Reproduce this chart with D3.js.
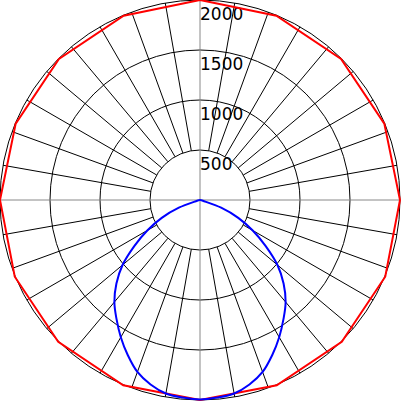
<!DOCTYPE html>
<html>
<head>
<meta charset="utf-8">
<script src="https://cdn.jsdelivr.net/npm/d3@7"></script>
<style>
  html, body { margin: 0; padding: 0; background: #fff; }
  svg { display: block; }
</style>
</head>
<body>
<script>
// ---- data ----
const radialTicks = [500, 1000, 1500, 2000];
const tickLabels = ["500", "1000", "1500", "2000"];
const spokeAngles = [10,20,30,40,50,60,70,80,100,110,120,130,140,150,160,170,190,200,210,220,230,240,250,260,280,290,300,310,320,330,340,350];
// red series: angle (deg, clockwise from top) and value
const redAngles = [0, 22.5, 45, 67.5, 90, 112.5, 135, 157.5, 180, 202.5, 225, 247.5, 270, 292.5, 315, 337.5];
const redValues = [2000, 1995, 1995, 1995, 2000, 2005, 2005, 2005, 2000, 2005, 2005, 2005, 2000, 1995, 1995, 1995];
// blue series: angle (deg, clockwise from top) and value
const blueAngles = [0,5,10,15,20,25,30,35,40,45,50,55,60,65,70,75,80,85,90,95,100,105,110,115,120,125,130,135,140,145,150,155,160,165,170,175,180,185,190,195,200,205,210,215,220,225,230,235,240,245,250,255,260,265,270,275,280,285,290,295,300,305,310,315,320,325,330,335,340,345,350,355];
const blueValues = [0,0,0,0,0,0,0,0,0,0,0,0,0,0,0,0,0,0,0,0,0,30,225,422,606,800,1011,1182,1332,1455,1584,1710,1830,1910,1965,1983,1995,1983,1965,1910,1830,1710,1584,1455,1332,1182,1011,800,606,422,225,30,0,0,0,0,0,0,0,0,0,0,0,0,0,0,0,0,0,0,0,0];

// ---- chart ----
const W = 401, H = 401, cx = 200, cy = 200;
const svg = d3.select("body").append("svg").attr("width", W).attr("height", H);
const g = svg.append("g").attr("transform", `translate(${cx},${cy})`);
const r = d3.scaleLinear().domain([0, 2000]).range([0, 200]);
const rad = d => d * Math.PI / 180;

// circles
g.selectAll("circle.grid").data(radialTicks).join("circle")
  .attr("class", "grid").attr("r", d => r(d))
  .attr("fill", "none").attr("stroke", "#000").attr("stroke-width", 1);

// spokes
g.selectAll("line.spoke").data(spokeAngles).join("line")
  .attr("class", "spoke")
  .attr("x1", d => r(500) * Math.sin(rad(d)))
  .attr("y1", d => -r(500) * Math.cos(rad(d)))
  .attr("x2", d => r(2000) * Math.sin(rad(d)))
  .attr("y2", d => -r(2000) * Math.cos(rad(d)))
  .attr("stroke", "#000").attr("stroke-width", 1);

// axes
g.append("line").attr("x1", -r(2000)).attr("x2", r(2000)).attr("y1", 0).attr("y2", 0)
  .attr("stroke", "#888").attr("stroke-width", 1);
g.append("line").attr("y1", -r(2000)).attr("y2", r(2000)).attr("x1", 0).attr("x2", 0)
  .attr("stroke", "#888").attr("stroke-width", 1);

// labels
g.selectAll("text.tick").data(radialTicks).join("text")
  .attr("class", "tick")
  .attr("x", 0).attr("y", d => -r(d)).attr("dy", 20)
  .attr("font-family", "DejaVu Sans").attr("font-size", 17)
  .attr("fill", "#000")
  .text((d, i) => tickLabels[i]);

// series
const lineRed = d3.lineRadial().angle(d => rad(d[0])).radius(d => r(d[1])).curve(d3.curveLinearClosed);
const lineBlue = d3.lineRadial().angle(d => rad(d[0])).radius(d => r(d[1])).curve(d3.curveCardinalClosed);
g.append("path").datum(redAngles.map((a, i) => [a, redValues[i]]))
  .attr("d", lineRed).attr("fill", "none").attr("stroke", "red").attr("stroke-width", 2);
g.append("path").datum(blueAngles.map((a, i) => [a, blueValues[i]]))
  .attr("d", lineBlue).attr("fill", "none").attr("stroke", "blue").attr("stroke-width", 2)
  .attr("stroke-linejoin", "round");
</script>
</body>
</html>
